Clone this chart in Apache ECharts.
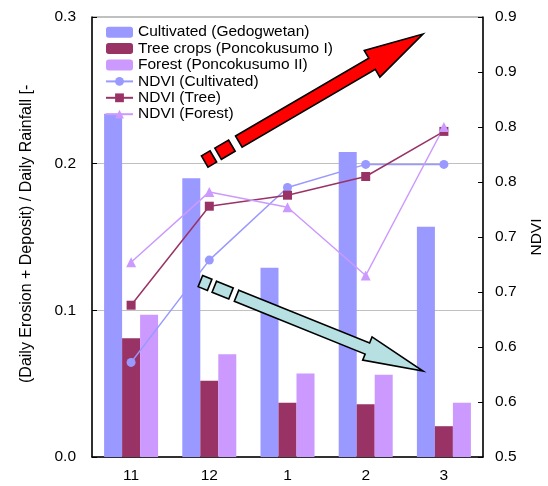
<!DOCTYPE html>
<html>
<head>
<meta charset="utf-8">
<title>Erosion ratio and NDVI by month</title>
<script src="https://cdn.jsdelivr.net/npm/echarts@6/dist/echarts.min.js"></script>
<style>
  html, body { margin: 0; padding: 0; background: #fff; }
  #chart { width: 548px; height: 486px; }
</style>
</head>
<body>
<div id="chart"></div>
<script>
// Months (Nov to Mar)
const months = ['11', '12', '1', '2', '3'];

// (Daily erosion + deposit) / daily rainfall
const cultivatedRatio = [0.234, 0.190, 0.129, 0.208, 0.157];
const treeRatio = [0.081, 0.052, 0.037, 0.036, 0.021];
const forestRatio = [0.097, 0.070, 0.057, 0.056, 0.037];

// NDVI per land use
const ndviCultivated = [0.586, 0.679, 0.745, 0.766, 0.766];
const ndviTree = [0.638, 0.728, 0.738, 0.755, 0.796];
const ndviForest = [0.677, 0.741, 0.727, 0.665, 0.800];

// Axis tick labels
const ratioTickLabels = ['0.0', '0.1', '0.2', '0.3'];
const ndviTickLabels = ['0.5', '0.6', '0.6', '0.7', '0.7', '0.8', '0.8', '0.9', '0.9'];

const FONT = '"Liberation Sans", Arial, sans-serif';
const FS = 15.5;
const C_CULT = '#9999FF';
const C_TREE = '#993366';
const C_FOREST = '#CC99FF';

// Block arrow with a broken (dashed) tail, built as polygons
function blockArrow(tail, tip, shaftW, headW, headLen, dashes, bodyStart, fill) {
  const dx = tip[0] - tail[0], dy = tip[1] - tail[1];
  const L = Math.hypot(dx, dy);
  const ux = dx / L, uy = dy / L;
  const nx = -uy, ny = ux;
  const pt = (d, o) => [tail[0] + ux * d + nx * o, tail[1] + uy * d + ny * o];
  const h = shaftW / 2, hw = headW / 2, base = L - headLen;
  const style = { fill: fill, stroke: '#000', lineWidth: 1.6, lineJoin: 'miter' };
  const els = dashes.map(([a, b]) => ({
    type: 'polygon', z: 100, silent: true,
    shape: { points: [pt(a, -h), pt(b, -h), pt(b, h), pt(a, h)] },
    style: style
  }));
  els.push({
    type: 'polygon', z: 100, silent: true,
    shape: { points: [pt(bodyStart, -h), pt(base, -h), pt(base, -hw), pt(L, 0),
                      pt(base, hw), pt(base, h), pt(bodyStart, h)] },
    style: style
  });
  return els;
}

const chart = echarts.init(document.getElementById('chart'), null, { renderer: 'canvas' });

const option = {
  backgroundColor: '#fff',
  animation: false,
  textStyle: { fontFamily: FONT },
  grid: {
    left: 92, right: 65, top: 17, bottom: 29,
    containLabel: false, outerBoundsMode: 'none',
    show: true, borderColor: '#808080', borderWidth: 1
  },
  legend: {
    orient: 'vertical',
    left: 105, top: 24, padding: 0,
    itemWidth: 27, itemHeight: 11, itemGap: 0,
    textStyle: { fontFamily: FONT, fontSize: FS, color: '#000', lineHeight: 16.4 },
    data: ['Cultivated (Gedogwetan)', 'Tree crops (Poncokusumo I)', 'Forest (Poncokusumo II)',
           'NDVI (Cultivated)', 'NDVI (Tree)', 'NDVI (Forest)']
  },
  xAxis: {
    type: 'category',
    data: months,
    axisLine: { lineStyle: { color: '#000', width: 1.5 } },
    axisTick: { inside: true, length: 5, lineStyle: { color: '#000' } },
    axisLabel: { color: '#000', fontSize: FS, fontFamily: FONT, margin: 11 }
  },
  yAxis: [
    {
      type: 'value', min: 0, max: 0.3, interval: 0.1,
      axisLine: { show: true, lineStyle: { color: '#000', width: 1.5 } },
      axisTick: { show: true, inside: true, length: 5, lineStyle: { color: '#000' } },
      axisLabel: {
        color: '#000', fontSize: FS, fontFamily: FONT, margin: 16,
        formatter: v => ratioTickLabels[Math.round(v / 0.1)]
      },
      splitLine: { show: true, lineStyle: { color: '#c0c0c0', width: 1 } }
    },
    {
      type: 'value', min: 0.5, max: 0.9, interval: 0.05,
      position: 'right',
      name: 'NDVI', nameLocation: 'middle', nameRotate: 90, nameGap: 46,
      nameTextStyle: { color: '#000', fontSize: FS, fontFamily: FONT },
      axisLine: { show: true, lineStyle: { color: '#000', width: 1.5 } },
      axisTick: { show: true, inside: true, length: 5, lineStyle: { color: '#000' } },
      axisLabel: {
        color: '#000', fontSize: FS, fontFamily: FONT, margin: 12,
        formatter: v => ndviTickLabels[Math.round((v - 0.5) / 0.05)]
      },
      splitLine: { show: false }
    }
  ],
  series: [
    { name: 'Cultivated (Gedogwetan)', type: 'bar', data: cultivatedRatio,
      barWidth: 18, barGap: '0%', itemStyle: { color: C_CULT } },
    { name: 'Tree crops (Poncokusumo I)', type: 'bar', data: treeRatio,
      barWidth: 18, barGap: '0%', itemStyle: { color: C_TREE } },
    { name: 'Forest (Poncokusumo II)', type: 'bar', data: forestRatio,
      barWidth: 18, barGap: '0%', itemStyle: { color: C_FOREST } },
    { name: 'NDVI (Cultivated)', type: 'line', yAxisIndex: 1, data: ndviCultivated,
      symbol: 'circle', symbolSize: 9, z: 5,
      lineStyle: { color: C_CULT, width: 1.5 }, itemStyle: { color: C_CULT } },
    { name: 'NDVI (Tree)', type: 'line', yAxisIndex: 1, data: ndviTree,
      symbol: 'rect', symbolSize: 9, z: 5,
      lineStyle: { color: C_TREE, width: 1.5 }, itemStyle: { color: C_TREE } },
    { name: 'NDVI (Forest)', type: 'line', yAxisIndex: 1, data: ndviForest,
      symbol: 'triangle', symbolSize: 10, z: 5,
      lineStyle: { color: C_FOREST, width: 1.5 }, itemStyle: { color: C_FOREST } }
  ],
  graphic: [
    {
      // left axis title, cut short at the top like the original layout
      type: 'text', silent: true,
      x: 27, y: 383, rotation: Math.PI / 2,
      style: {
        text: '(Daily Erosion + Deposit) / Daily Rainfall [-]',
        fontFamily: FONT, fontSize: 16, fill: '#000',
        align: 'left', verticalAlign: 'middle',
        width: 303, overflow: 'truncate', ellipsis: ''
      }
    },
    ...blockArrow([204.7, 161.5], [423, 34], 13, 31, 59, [[0, 10], [15.5, 31.5]], 39.5, '#FF0000'),
    ...blockArrow([200.4, 281.1], [423, 371], 12, 25, 60, [[0, 10], [15, 33]], 39, '#B6E0E2')
  ]
};

chart.setOption(option);
</script>
</body>
</html>
